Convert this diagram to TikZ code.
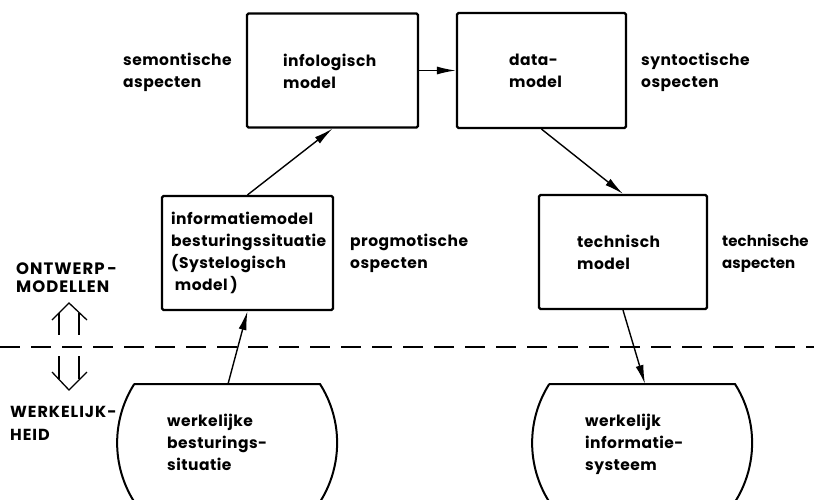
\documentclass[tikz,border=0pt]{standalone}
\usepackage{fontspec}
\setmainfont{Poppins}[LetterSpace=3]
\newfontfamily\capsfont{Poppins}[LetterSpace=6]
\newfontfamily\tightfont{Poppins}[LetterSpace=0.5]
\usetikzlibrary{arrows.meta}
\tikzset{
  box/.style={draw, line width=2.2pt, rounded corners=1.5pt, inner sep=0pt},
  txt/.style={anchor=base west, align=left, inner sep=0pt, font=\fontsize{15.5}{22}\selectfont\bfseries},
  capstxt/.style={anchor=base west, align=left, inner sep=0pt},
  conn/.style={line width=1.4pt, -{Latex[length=19pt,width=8pt]}},
  bowl/.style={line width=2pt},
  hollow/.style={line width=1.3pt, line join=miter}
}
\begin{document}
\begin{tikzpicture}[x=1pt,y=-1pt]
\useasboundingbox (0,0) rectangle (814,499);
% boxes
\node[box, minimum width=171pt, minimum height=114pt] (infolog) at (332.5,70.5) {};
\node[box, minimum width=169pt, minimum height=115pt] (datamod) at (541.5,70.5) {};
\node[box, minimum width=171pt, minimum height=114pt] (infomod) at (247.5,253) {};
\node[box, minimum width=168pt, minimum height=114pt] (techmod) at (623,252) {};
% bowls
\draw[bowl] (134,384) -- (320,384) arc[start angle=-32.4, end angle=212.4, radius=110] -- cycle;
\draw[bowl] (549,384) -- (735,384) arc[start angle=-32.4, end angle=212.4, radius=110] -- cycle;
\coordinate (bowlLtop) at (228,384);
\coordinate (bowlRtop) at (645,384);
% dashed line
\coordinate (dashL) at (0,347);
\coordinate (dashR) at (814,347);
\draw[line width=1.6pt, dash pattern=on 20pt off 11pt] (dashL) -- (dashR);
% connectors
\draw[conn] (infolog.east) -- (datamod.west);
\draw[conn] (infomod.north) -- (infolog.south);
\draw[conn] (datamod.south) -- (techmod.north);
\draw[conn] (bowlLtop) -- (infomod.south);
\draw[conn] (techmod.south) -- (bowlRtop);
% hollow arrows
\draw[hollow] (52,320) -- (69,303) -- (87,320);
\draw[hollow] (59,313) -- (59,335);
\draw[hollow] (79,313) -- (79,335);
\draw[hollow] (52,372) -- (69,390) -- (87,372);
\draw[hollow] (59,356) -- (59,379);
\draw[hollow] (79,356) -- (79,379);
% texts (positioned at baseline of last line)
\node[txt] (t1) at (123,87) {semontische\\aspecten};
\node[txt] (t2) at (283,88) {infologisch\\model};
\node[txt] (t3) at (509,87) {data-\\model};
\node[txt] (t4) at (641,87) {syntoctische\\ospecten};
\node[txt] (t5) at (171,290) {informatiemodel\\besturingssituatie\\(Systelogisch\\\ model\,)};
\node[txt] (t6) at (350,268) {progmotische\\ospecten};
\node[txt] (t7) at (577,269) {technisch\\model};
\node[txt, font=\tightfont\fontsize{15}{22}\selectfont\bfseries] (t8) at (722,268) {technische\\aspecten};
\node[capstxt, font=\capsfont\fontsize{16.5}{18}\selectfont\bfseries] (t9) at (16,292) {ONTWERP\,-\\MODELLEN};
\node[capstxt, font=\capsfont\fontsize{16}{23}\selectfont\bfseries] (t10) at (10,440) {WERKELIJK-\\HEID};
\node[txt] (t11) at (167,470) {werkelijke\\besturings-\\situatie};
\node[txt] (t12) at (585,470) {werkelijk\\informatie-\\systeem};
\end{tikzpicture}
\end{document}
